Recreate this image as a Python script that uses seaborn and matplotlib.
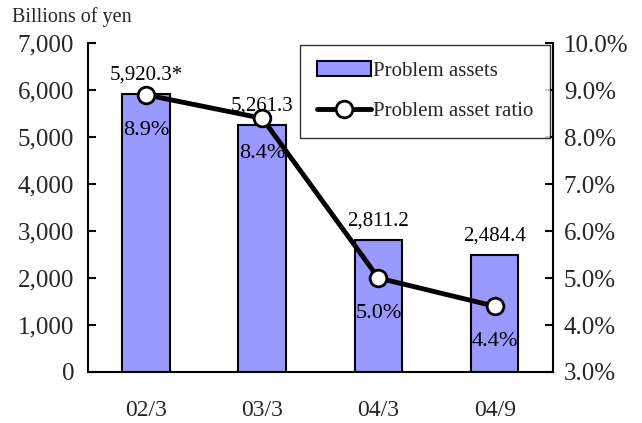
import matplotlib
matplotlib.use("Agg")
import matplotlib.pyplot as plt
import seaborn as sns
import pandas as pd
from matplotlib.ticker import FuncFormatter

categories = ["02/3", "03/3", "04/3", "04/9"]
problem_assets = [5920.3, 5261.3, 2811.2, 2484.4]
asset_labels = ["5,920.3*", "5,261.3", "2,811.2", "2,484.4"]
ratio = [8.9, 8.4, 5.0, 4.4]
ratio_labels = ["8.9%", "8.4%", "5.0%", "4.4%"]

sns.set_theme(style="white")
plt.rcParams["font.family"] = ["Liberation Serif", "DejaVu Serif"]

df = pd.DataFrame({"cat": categories, "assets": problem_assets, "ratio": ratio})

fig = plt.figure(figsize=(6.42, 4.23), dpi=100)
ax = fig.add_axes([0.137, 0.1206, 0.724, 0.7774])
sns.barplot(data=df, x="cat", y="assets", ax=ax, color="#9999FF", saturation=1,
            width=0.41, edgecolor="black", linewidth=1.5, label="Problem assets")
if ax.get_legend() is not None:
    ax.get_legend().remove()
ax.set_ylim(0, 7000)
ax.set_xlim(-0.5, 3.5)
ax.set_yticks(range(0, 7001, 1000))
ax.yaxis.set_major_formatter(FuncFormatter(lambda v, p: f"{int(v):,}"))
ax.set_xlabel("")
ax.set_ylabel("")
ax.tick_params(axis="y", direction="in", length=6, width=1.5, labelsize=18, color="black", left=True, pad=10)
ax.tick_params(axis="x", length=0, labelsize=17, pad=20)
for s in ["top", "right"]:
    ax.spines[s].set_visible(False)
for s in ["left", "bottom"]:
    ax.spines[s].set_color("black")
    ax.spines[s].set_linewidth(1.5)

for i, (v, lab) in enumerate(zip(problem_assets, asset_labels)):
    ax.text(i, v + 200, lab, ha="center", va="bottom", fontsize=15, color="black")

ax2 = ax.twinx()
sns.lineplot(x=list(range(len(categories))), y=ratio, ax=ax2, color="black", linewidth=3.5,
             marker="o", markersize=12, markerfacecolor="white", markeredgecolor="black",
             markeredgewidth=2, label="Problem asset ratio", legend=False)
ax2.set_ylim(3.0, 10.0)
ax2.set_yticks([3, 4, 5, 6, 7, 8, 9, 10])
ax2.yaxis.set_major_formatter(FuncFormatter(lambda v, p: f"{v:.1f}%"))
ax2.tick_params(axis="y", direction="in", length=6, width=1.5, labelsize=18, color="black", right=True, pad=8)
for s in ["top", "left", "bottom"]:
    ax2.spines[s].set_visible(False)
ax2.spines["right"].set_color("black")
ax2.spines["right"].set_linewidth(1.5)
ax2.set_xlim(-0.5, 3.5)

for i, (v, lab) in enumerate(zip(ratio, ratio_labels)):
    ax2.text(i, v - 0.75, lab, ha="center", va="center", fontsize=16, color="black")

fig.text(0.019, 0.96, "Billions of yen", fontsize=14.5, ha="left", va="center")

h1, l1 = ax.get_legend_handles_labels()
h2, l2 = ax2.get_legend_handles_labels()
leg = ax2.legend(h1 + h2, l1 + l2, loc="upper right", bbox_to_anchor=(0.994, 0.995),
                 borderaxespad=0.0,
                 fontsize=15, frameon=True, fancybox=False, edgecolor="black",
                 handlelength=2.6, handletextpad=0.1, borderpad=0.8, labelspacing=1.0)
leg.get_frame().set_linewidth(1.0)

fig.savefig("out.png", dpi=100)
